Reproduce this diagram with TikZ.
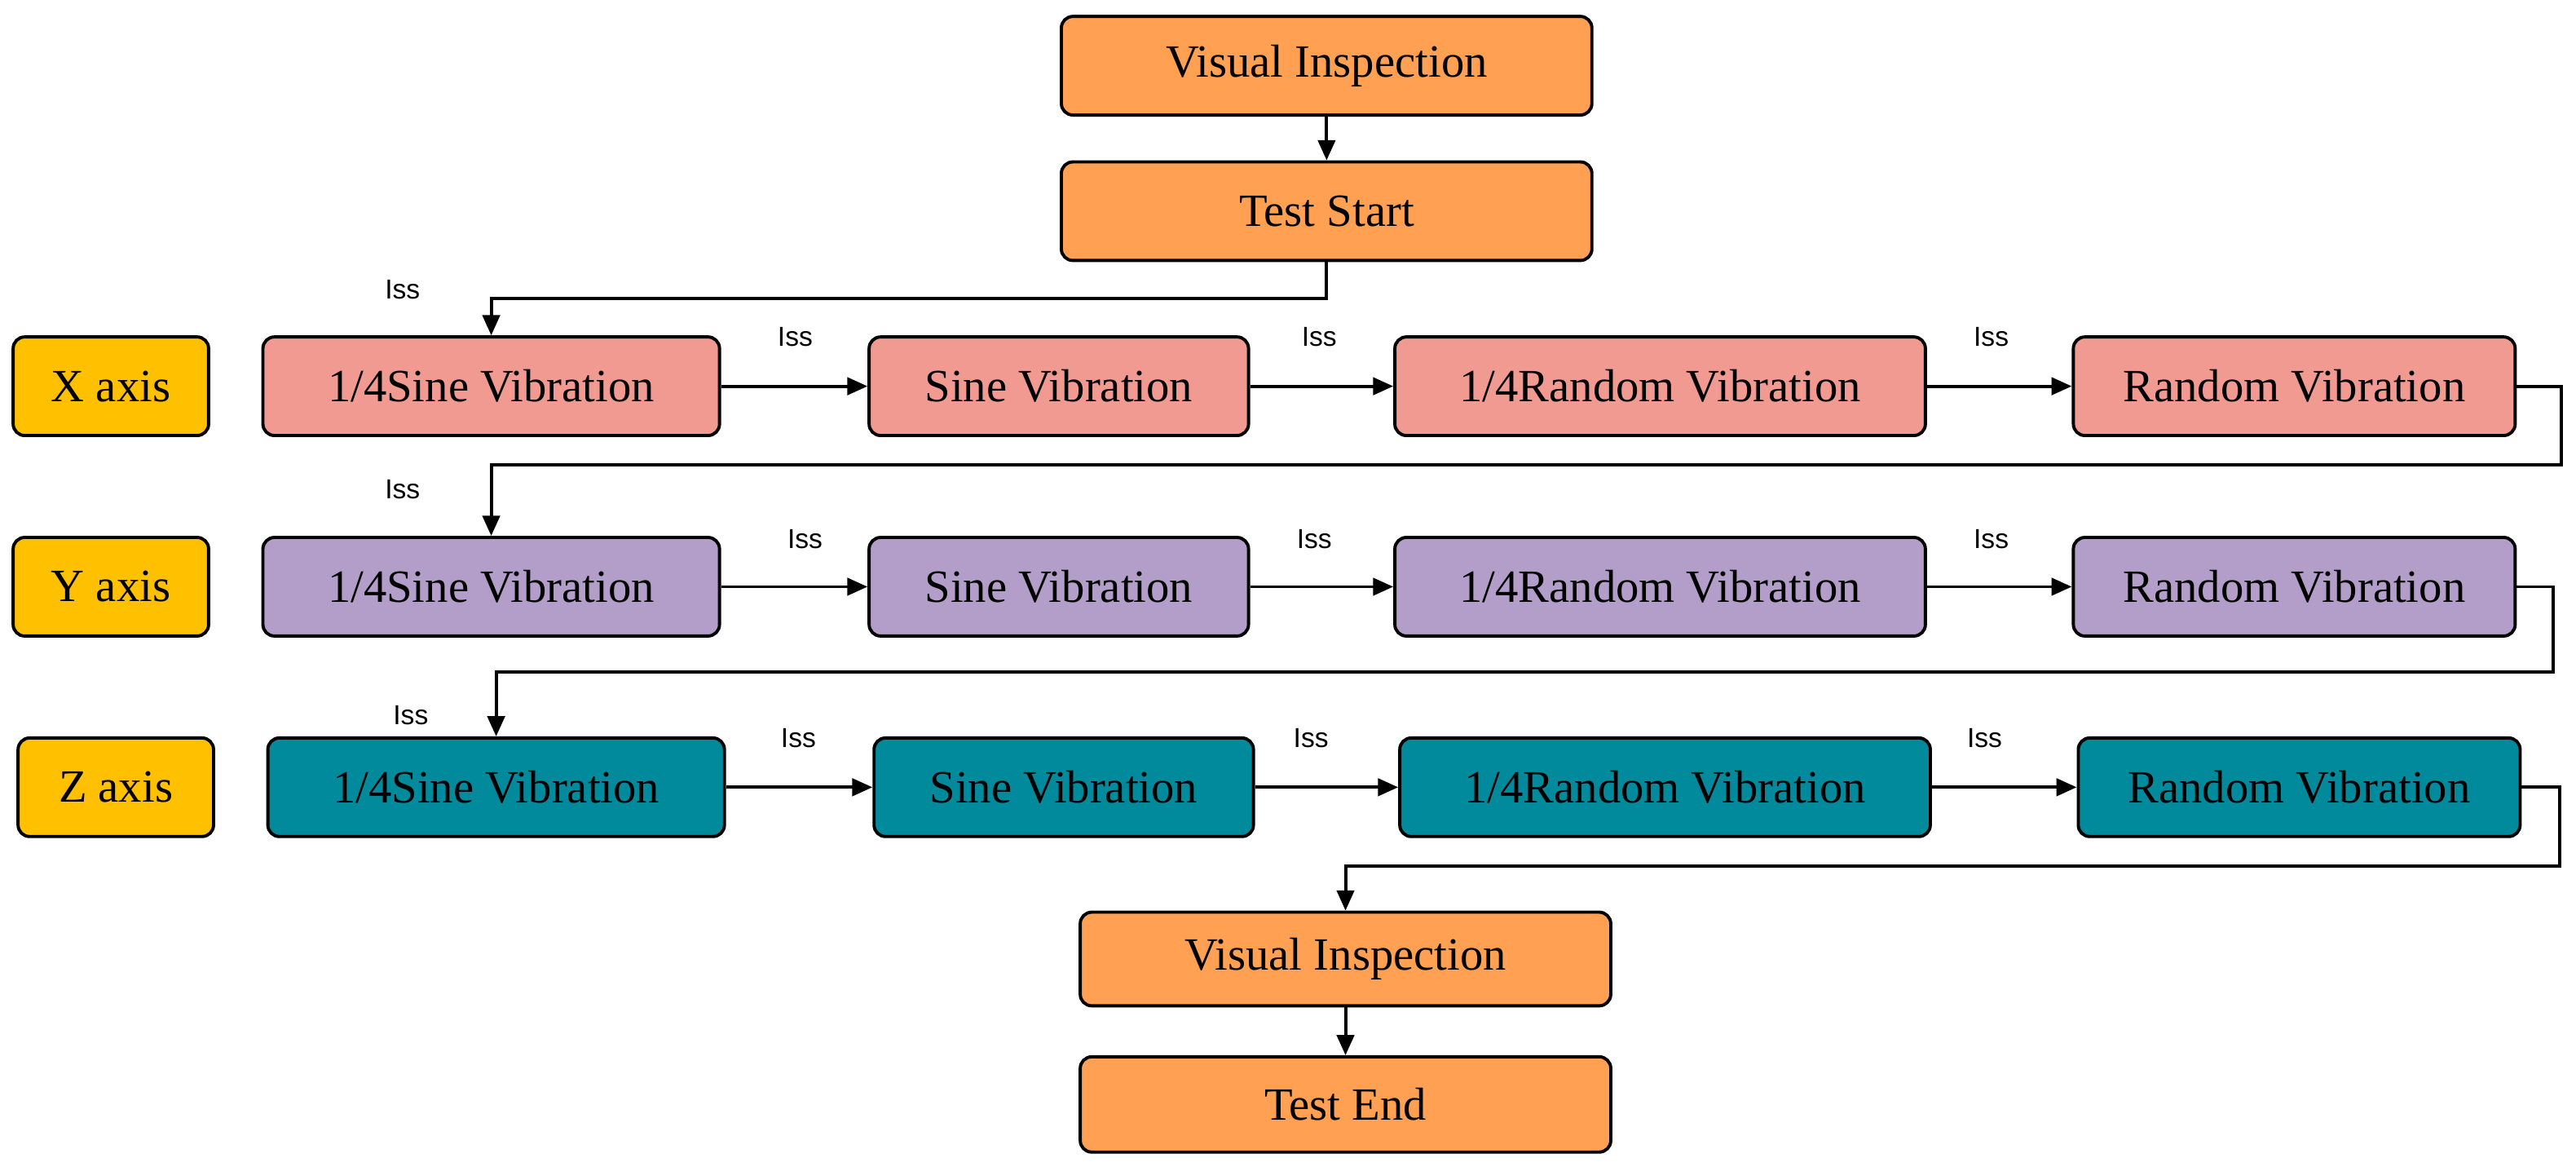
\documentclass[tikz,border=0pt]{standalone}
\usepackage{fontspec}
\setmainfont{Liberation Serif}
\newfontfamily\issfont{Liberation Sans}
\usetikzlibrary{arrows.meta}
\definecolor{cor}{HTML}{FFA052}
\definecolor{cpk}{HTML}{F09A92}
\definecolor{cpu}{HTML}{B39DC9}
\definecolor{cte}{HTML}{008A9C}
\definecolor{cax}{HTML}{FFC000}
\begin{document}
\begin{tikzpicture}[x=0.02cm,y=-0.02cm,
 box/.style={draw=black,line width=1.1pt,rounded corners=4pt,minimum height=1.2cm,inner sep=0pt,font=\fontsize{16}{19}\selectfont},
 ob/.style={box,fill=cor},
 pk/.style={box,fill=cpk},
 pu/.style={box,fill=cpu},
 te/.style={box,fill=cte},
 ax/.style={box,fill=cax,minimum width=2.38cm},
 w1/.style={minimum width=5.56cm},
 w2/.style={minimum width=4.62cm},
 w3/.style={minimum width=6.46cm},
 w4/.style={minimum width=5.38cm},
 arr/.style={draw=black,line width=1.1pt,-{Triangle[length=7pt,width=6pt]}},
 iss/.style={font=\issfont\fontsize{9.5}{11}\selectfont}]
\useasboundingbox (0,0) rectangle (1568,710);
\node[ob,w3] (vi1) at (807.5,40) {Visual Inspection};
\node[ob,w3] (ts) at (807.5,128.5) {Test Start};
% X
\node[ax] (xa) at (67.5,235) {X axis};
\node[pk,w1] (x1) at (299,235) {1/4Sine Vibration};
\node[pk,w2] (x2) at (644.5,235) {Sine Vibration};
\node[pk,w3] (x3) at (1010.5,235) {1/4Random Vibration};
\node[pk,w4] (x4) at (1396.5,235) {Random Vibration};
% Y
\node[ax] (ya) at (67.5,357) {Y axis};
\node[pu,w1] (y1) at (299,357) {1/4Sine Vibration};
\node[pu,w2] (y2) at (644.5,357) {Sine Vibration};
\node[pu,w3] (y3) at (1010.5,357) {1/4Random Vibration};
\node[pu,w4] (y4) at (1396.5,357) {Random Vibration};
% Z
\node[ax] (za) at (70.5,479) {Z axis};
\node[te,w1] (z1) at (302,479) {1/4Sine Vibration};
\node[te,w2] (z2) at (647.5,479) {Sine Vibration};
\node[te,w3] (z3) at (1013.5,479) {1/4Random Vibration};
\node[te,w4] (z4) at (1399.5,479) {Random Vibration};
% bottom
\node[ob,w3,minimum height=1.14cm] (vi2) at (819,583.5) {Visual Inspection};
\node[ob,w3,minimum height=1.16cm] (te) at (819,672) {Test End};
% arrows
\draw[arr] (vi1) -- (ts);
\draw[arr] (ts.south) -- ++(0,22) -| (x1.north);
\draw[arr] (x1) -- (x2); \draw[arr] (x2) -- (x3); \draw[arr] (x3) -- (x4);
\draw[arr] (x4.east) -- ++(27,0) -- ++(0,48) -| (y1.north);
\draw[arr] (y1) -- (y2); \draw[arr] (y2) -- (y3); \draw[arr] (y3) -- (y4);
\draw[arr] (y4.east) -- ++(22,0) -- ++(0,52) -| (z1.north);
\draw[arr] (z1) -- (z2); \draw[arr] (z2) -- (z3); \draw[arr] (z3) -- (z4);
\draw[arr] (z4.east) -- ++(23,0) -- ++(0,48) -| (vi2.north);
\draw[arr] (vi2) -- (te);
% labels
\node[iss] (l0) at (245,176) {Iss};
\node[iss] (l1) at (484,205) {Iss};
\node[iss] (l2) at (803,205) {Iss};
\node[iss] (l3) at (1212,205) {Iss};
\node[iss] (l4) at (245,298) {Iss};
\node[iss] (l5) at (490,328) {Iss};
\node[iss] (l6) at (800,328) {Iss};
\node[iss] (l7) at (1212,328) {Iss};
\node[iss] (l8) at (250,435) {Iss};
\node[iss] (l9) at (486,449) {Iss};
\node[iss] (l10) at (798,449) {Iss};
\node[iss] (l11) at (1208,449) {Iss};
\end{tikzpicture}
\end{document}
